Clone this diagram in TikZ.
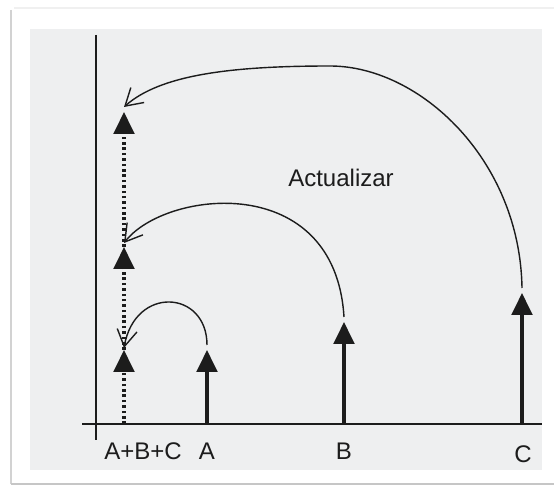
\documentclass[tikz,border=0pt]{standalone}
\usepackage{fontspec}
\setmainfont{Liberation Sans}
\usepackage{tikz}
\usetikzlibrary{arrows.meta, calc}
\usepackage{xcolor}
\definecolor{actpanel}{HTML}{EEEFF0}
\definecolor{actink}{HTML}{1C1C1C}

\begin{document}
\begin{tikzpicture}[
    x=0.03cm, y=-0.03cm,
    font=\fontsize{20.5}{24}\selectfont,
    axis/.style={actink, line width=1.9pt},
    stem/.style={actink, line width=2.6pt, -{Triangle[length=0.66cm, width=0.62cm]}},
    sumstem/.style={stem, line width=2.8pt, dash pattern=on 2.2pt off 2.4pt},
    upd/.style={actink, line width=1.2pt, -{Straight Barb[length=0.5cm, width=0.6cm, line width=1.2pt]}},
    lbl/.style={text=actink, inner sep=0pt, anchor=base}]

  % frame and panel
  \useasboundingbox (0,0) rectangle (554,487);
  \fill[white] (0,0) rectangle (554,487);
  \draw[gray!12, line width=1pt] (14,8) -- (554,8);
  \draw[gray!35, line width=2.5pt] (11,10) -- (11,484);
  \draw[gray!45, line width=2.5pt] (11,484) -- (554,484);
  \fill[actpanel] (30,29) rectangle (542,470);

  % axes
  \coordinate (o) at (96,424);
  \draw[axis] (96,35) -- (96,440);
  \draw[axis] (82,424) -- (542,424);

  % base points and tips
  \coordinate (s0) at (124,424);
  \coordinate (s1) at (124,350);
  \coordinate (s2) at (124,247);
  \coordinate (s3) at (124,112);
  \coordinate (a0) at (207,424);
  \coordinate (a1) at (207,350);
  \coordinate (b0) at (344,424);
  \coordinate (b1) at (344,322);
  \coordinate (c0) at (522,424);
  \coordinate (c1) at (522,293);

  \draw[sumstem] (s0) -- (s1);
  \draw[sumstem] (s1) -- (s2);
  \draw[sumstem] (s2) -- (s3);
  \draw[stem] (a0) -- (a1);
  \draw[stem] (b0) -- (b1);
  \draw[stem] (c0) -- (c1);

  % updates
  \draw[upd] ($(a1)+(0,-5)$) .. controls (207,290) and (135,285) .. ($(s1)+(0,-2)$);
  \draw[upd] ($(b1)+(0,-5)$) .. controls (335,170) and (165,190) .. ($(s2)+(0,-4)$);
  \draw[upd] ($(c1)+(0,-5)$) .. controls (520,160) and (420,66) .. (330,66)
                           .. controls (230,66) and (160,75) .. ($(s3)+(0,-5)$);

  % labels
  \node[lbl] (lsum) at (143,460) {A+B+C};
  \node[lbl] (la) at (207,460) {A};
  \node[lbl] (lb) at (344,460) {B};
  \node[lbl] (lc) at (523,463) {C};
  \node[lbl] (upd) at (341,187) {Actualizar};
\end{tikzpicture}
\end{document}
